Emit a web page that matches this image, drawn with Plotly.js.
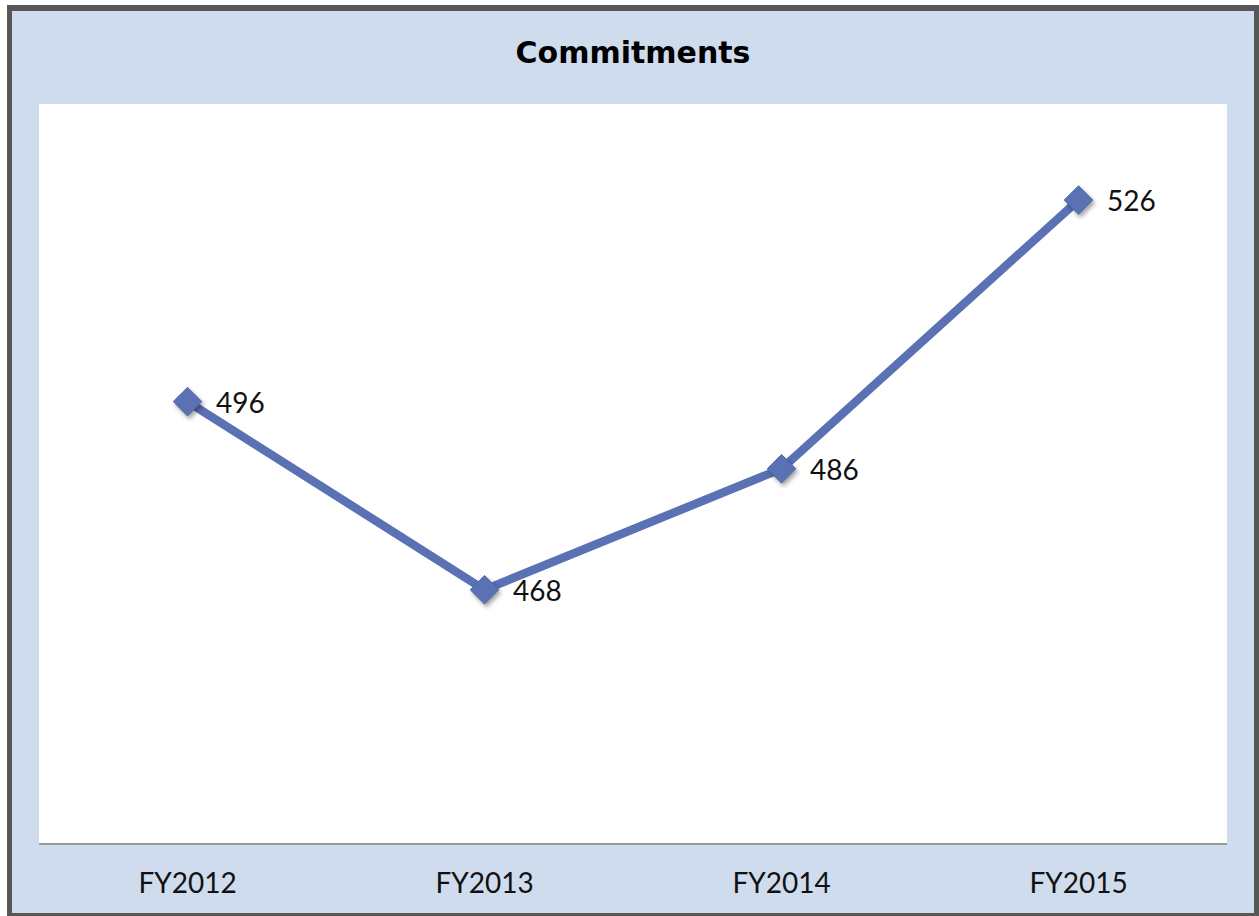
<!DOCTYPE html>
<html>
<head>
<meta charset="utf-8">
<script src="https://cdn.plot.ly/plotly-3.0.1.min.js"></script>
<style>
  html, body { margin: 0; padding: 0; background: #ffffff; overflow: hidden; }
  #frame {
    position: absolute; left: 7px; top: 5px;
    width: 1252px; height: 914px; box-sizing: border-box;
    border-left: 5px solid #575757; border-top: 6px solid #575757;
    border-right: 5px solid #575757; border-bottom: 6px solid #575757;
    background: #CFDCEE;
  }
  #chart { width: 1242px; height: 902px; }
  #chart .scatterlayer .point { filter: drop-shadow(2px 3px 2px rgba(0,0,0,0.35)); }
</style>
</head>
<body>
<div id="frame"><div id="chart"></div></div>
<script>
const categories = ["FY2012", "FY2013", "FY2014", "FY2015"];
const commitments = [496, 468, 486, 526];
const labels = commitments.map(v => String(v));

const lineColor = "#5A71B4";

const trace = {
  type: "scatter",
  mode: "lines+markers",
  x: categories,
  y: commitments,
  line: { color: lineColor, width: 8.5 },
  marker: { symbol: "diamond", size: 22, color: lineColor, line: { color: "#5068AA", width: 1 } },
  hoverinfo: "skip",
  showlegend: false,
  cliponaxis: false
};

const annotations = categories.map((c, i) => ({
  x: c, y: commitments[i], xref: "x", yref: "y",
  text: labels[i], showarrow: false,
  xanchor: "left", yanchor: "middle", xshift: 26, yshift: 0,
  font: { family: "Lato, 'Open Sans', sans-serif", size: 28, color: "#111111" }
}));

const layout = {
  width: 1242, height: 902,
  paper_bgcolor: "#CFDCEE",
  plot_bgcolor: "#FFFFFF",
  margin: { l: 27, r: 27, t: 93, b: 70, pad: 0 },
  title: {
    text: "<b>Commitments</b>",
    x: 0.5, xanchor: "center",
    y: 1 - 41 / 902, yanchor: "middle", yref: "container",
    font: { family: "'DejaVu Sans', 'Liberation Sans', sans-serif", size: 30, color: "#000000" }
  },
  xaxis: {
    type: "category",
    range: [-0.5, 3.5],
    showgrid: false, zeroline: false,
    showline: true, linecolor: "#9A9A9A", linewidth: 2,
    ticks: "",
    tickfont: { family: "Lato, 'Open Sans', sans-serif", size: 28, color: "#111111" },
    ticklabelstandoff: 14
  },
  yaxis: {
    range: [430.3, 540.3],
    visible: false, showgrid: false, zeroline: false
  },
  annotations: annotations
};

Plotly.newPlot("chart", [trace], layout, { displayModeBar: false, staticPlot: true });
</script>
</body>
</html>
